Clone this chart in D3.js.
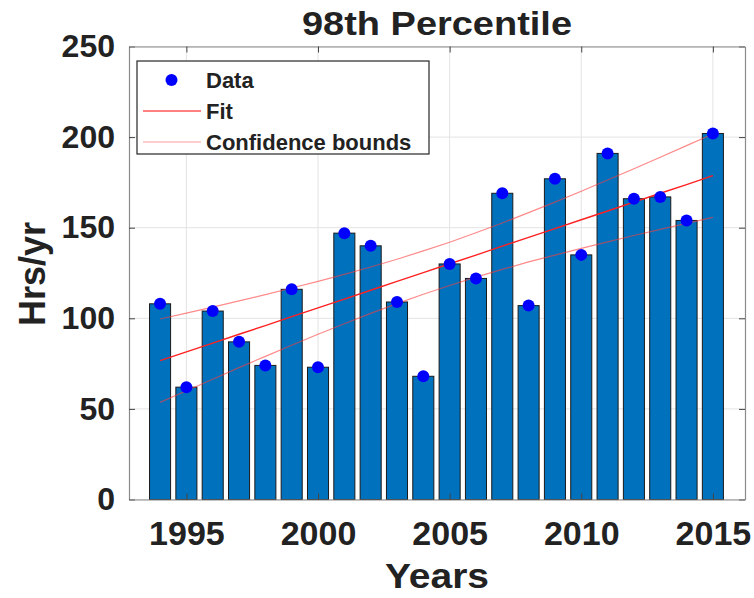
<!DOCTYPE html>
<html>
<head>
<meta charset="utf-8">
<script src="https://cdn.jsdelivr.net/npm/d3@7"></script>
<style>
  html, body { margin: 0; padding: 0; background: #fff; }
  svg { display: block; }
  text { font-family: "Liberation Sans", Arial, Helvetica, sans-serif; font-weight: bold; fill: #222; }
</style>
</head>
<body>
<svg id="chart" width="754" height="598"></svg>
<script>
// Annual hours above the 98th percentile, with a linear fit and its confidence bounds
const years = [1994, 1995, 1996, 1997, 1998, 1999, 2000, 2001, 2002, 2003, 2004,
               2005, 2006, 2007, 2008, 2009, 2010, 2011, 2012, 2013, 2014, 2015];
const hours = [108, 62, 104, 87, 74, 116, 73, 147, 140, 109, 68,
               130, 122, 169, 107, 177, 135, 191, 166, 167, 154, 202];
const fitHours = [76.6, 81.5, 86.3, 91.2, 96.0, 100.9, 105.8, 110.6, 115.5, 120.4, 125.2,
                  130.1, 134.9, 139.8, 144.7, 149.5, 154.4, 159.2, 164.1, 169.0, 173.8, 178.7];
const upperBound = [99.6, 102.9, 106.2, 109.6, 113.1, 116.7, 120.4, 124.2, 128.3, 132.6, 137.2,
                    142.0, 147.2, 152.6, 158.3, 164.1, 170.1, 176.3, 182.5, 188.9, 195.3, 201.7];
const lowerBound = [53.6, 60.0, 66.4, 72.8, 79.0, 85.1, 91.2, 97.0, 102.7, 108.1, 113.3,
                    118.1, 122.7, 127.0, 131.1, 134.9, 138.6, 142.2, 145.7, 149.1, 152.4, 155.7];
const yTicks = [0, 50, 100, 150, 200, 250];
const xTicks = [1995, 2000, 2005, 2010, 2015];
const legendLabels = ["Data", "Fit", "Confidence bounds"];

const svg = d3.select("#chart");
const plot = { left: 129, right: 745, top: 46.5, bottom: 499.5 };

const x = d3.scaleLinear().domain([1992.82, 2016.22]).range([plot.left, plot.right]);
const y = d3.scaleLinear().domain([0, 250]).range([plot.bottom, plot.top]);
const barW = x(1994.8) - x(1994);

// grid
const grid = svg.append("g");
grid.selectAll(".gy").data(yTicks).join("line")
  .attr("x1", plot.left).attr("x2", plot.right)
  .attr("y1", d => y(d)).attr("y2", d => y(d))
  .attr("stroke", "#e3e3e3").attr("stroke-width", 1);
grid.selectAll(".gx").data(xTicks).join("line")
  .attr("x1", d => x(d)).attr("x2", d => x(d))
  .attr("y1", plot.top).attr("y2", plot.bottom)
  .attr("stroke", "#e3e3e3").attr("stroke-width", 1);

// bars
const rows = years.map((yr, i) => ({ yr, v: hours[i], fit: fitHours[i], up: upperBound[i], lo: lowerBound[i] }));
svg.append("g").selectAll("rect").data(rows).join("rect")
  .attr("x", d => x(d.yr) - barW / 2)
  .attr("y", d => y(d.v))
  .attr("width", barW)
  .attr("height", d => y(0) - y(d.v))
  .attr("fill", "#0072BD")
  .attr("stroke", "#1a1a1a")
  .attr("stroke-width", 1);

// fit line and confidence bounds
const line = key => d3.line().x(d => x(d.yr)).y(d => y(d[key]));
svg.append("path").datum(rows).attr("d", line("up"))
  .attr("fill", "none").attr("stroke", "rgba(255,60,60,0.6)").attr("stroke-width", 1.2);
svg.append("path").datum(rows).attr("d", line("lo"))
  .attr("fill", "none").attr("stroke", "rgba(255,60,60,0.6)").attr("stroke-width", 1.2);
svg.append("path").datum(rows).attr("d", line("fit"))
  .attr("fill", "none").attr("stroke", "#ff2020").attr("stroke-width", 1.4);

// data points
svg.append("g").selectAll("circle").data(rows).join("circle")
  .attr("cx", d => x(d.yr)).attr("cy", d => y(d.v)).attr("r", 6)
  .attr("fill", "#0000ff");

// axes
const axisColor = "#8a8a8a";
const yAxis = svg.append("g").attr("transform", `translate(${plot.left},0)`)
  .call(d3.axisLeft(y).tickValues(yTicks).tickSizeInner(-6).tickSizeOuter(0).tickPadding(14));
const yAxisR = svg.append("g").attr("transform", `translate(${plot.right},0)`)
  .call(d3.axisRight(y).tickValues(yTicks).tickSizeInner(-6).tickSizeOuter(0).tickFormat(""));
const xAxis = svg.append("g").attr("transform", `translate(0,${plot.bottom})`)
  .call(d3.axisBottom(x).tickValues(xTicks).tickFormat(d3.format("d")).tickSizeInner(-6).tickSizeOuter(0).tickPadding(21));
const xAxisT = svg.append("g").attr("transform", `translate(0,${plot.top})`)
  .call(d3.axisTop(x).tickValues(xTicks).tickSizeInner(-6).tickSizeOuter(0).tickFormat(""));

[yAxis, yAxisR, xAxis, xAxisT].forEach(g => {
  g.select(".domain").attr("stroke", axisColor).attr("stroke-width", 1.2);
  g.selectAll(".tick line").attr("stroke", "#444").attr("stroke-width", 1);
  g.selectAll("text").attr("font-family", null).attr("font-size", null)
    .style("font-size", "32px").style("font-weight", "bold").attr("fill", "#222");
});
xAxis.selectAll("text").style("font-size", "34px");

// titles
svg.append("text").attr("x", (plot.left + plot.right) / 2).attr("y", 35)
  .attr("text-anchor", "middle").style("font-size", "34px")
  .attr("textLength", 270).attr("lengthAdjust", "spacingAndGlyphs")
  .text("98th Percentile");
svg.append("text").attr("x", (plot.left + plot.right) / 2).attr("y", 588)
  .attr("text-anchor", "middle").style("font-size", "35px")
  .attr("textLength", 104).attr("lengthAdjust", "spacingAndGlyphs")
  .text("Years");
svg.append("text").attr("transform", `translate(45,${274})rotate(-90)`)
  .attr("text-anchor", "middle").style("font-size", "36px").text("Hrs/yr");

// legend
const lg = svg.append("g");
lg.append("rect").attr("x", 137).attr("y", 61).attr("width", 292).attr("height", 93)
  .attr("fill", "#fff").attr("stroke", "#262626").attr("stroke-width", 1.2);
const rowY = [80, 111, 142];
lg.append("circle").attr("cx", 171.5).attr("cy", rowY[0]).attr("r", 6).attr("fill", "#0000ff");
lg.append("line").attr("x1", 143).attr("x2", 201).attr("y1", rowY[1]).attr("y2", rowY[1])
  .attr("stroke", "#ff8080").attr("stroke-width", 1.8);
lg.append("line").attr("x1", 143).attr("x2", 201).attr("y1", rowY[2]).attr("y2", rowY[2])
  .attr("stroke", "rgba(255,90,90,0.6)").attr("stroke-width", 1.1);
lg.selectAll(".lab").data(legendLabels).join("text")
  .attr("x", 206).attr("y", (d, i) => rowY[i] + 8)
  .style("font-size", "22px").text(d => d);
</script>
</body>
</html>
